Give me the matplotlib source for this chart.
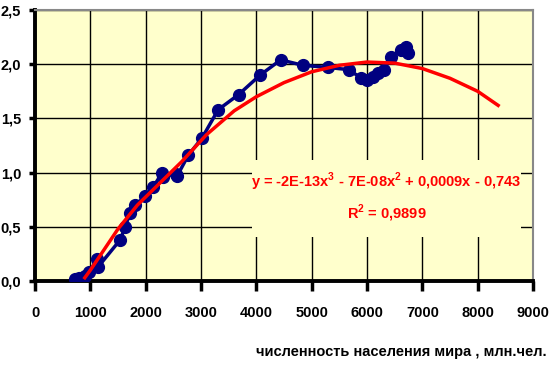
import matplotlib.pyplot as plt
from matplotlib.patches import Rectangle
from matplotlib.ticker import MultipleLocator, FuncFormatter

# численность населения (млн) и значение показателя
pop = [720, 760, 800, 850, 900, 980, 1120, 1140, 1540, 1630, 1720, 1810,
       1990, 2140, 2300, 2320, 2540, 2570, 2770, 3020, 3310, 3680, 4070,
       4440, 4840, 5290, 5670, 5900, 6000, 6100, 6200, 6300, 6430, 6610,
       6700, 6740]
val = [0.02, 0.01, 0.03, 0.02, 0.05, 0.08, 0.20, 0.13, 0.38, 0.50, 0.63,
       0.70, 0.78, 0.87, 1.00, 0.96, 0.99, 0.97, 1.16, 1.32, 1.58, 1.72,
       1.90, 2.04, 1.99, 1.97, 1.95, 1.87, 1.85, 1.88, 1.92, 1.95, 2.07,
       2.13, 2.16, 2.10]

# линия тренда
trend_x = [900, 1000, 1250, 1500, 1850, 2250, 2650, 3100, 3600, 4000, 4500,
           5000, 5500, 6000, 6500, 7000, 7500, 8000, 8370]
trend_y = [0.03, 0.10, 0.29, 0.48, 0.70, 0.90, 1.10, 1.35, 1.57, 1.70, 1.83,
           1.93, 1.99, 2.02, 2.01, 1.96, 1.87, 1.75, 1.62]

eq_text = 'y = -2E-13x$^3$ - 7E-08x$^2$ + 0,0009x - 0,743'
r2_text = 'R$^2$ = 0,9899'
xlabel = 'численность населения мира , млн.чел.'

plt.rcParams['font.family'] = ['Liberation Sans', 'DejaVu Sans']
plt.rcParams['mathtext.fontset'] = 'custom'
plt.rcParams['mathtext.rm'] = 'Liberation Sans:bold'

bg = '#FFFFCC'
fig = plt.figure(figsize=(5.55, 3.68), dpi=100)
ax = fig.add_axes([35 / 555, 1 - 281 / 368, 498 / 555, 271 / 368])
ax.set_facecolor(bg)

ax.plot(pop, val, color='#000080', lw=2.5, marker='o', ms=8.5, zorder=3)
ax.plot(trend_x, trend_y, color='#FF0000', lw=2.5, zorder=4)

ax.set_xlim(0, 9000)
ax.set_ylim(0, 2.5)
ax.xaxis.set_major_locator(MultipleLocator(1000))
ax.yaxis.set_major_locator(MultipleLocator(0.5))
ax.yaxis.set_major_formatter(FuncFormatter(lambda v, p: ('%.1f' % v).replace('.', ',')))
ax.grid(True, color='black', lw=1.0, zorder=1)
ax.set_axisbelow(True)

for s in ['left', 'bottom']:
    ax.spines[s].set_linewidth(2.8)
    ax.spines[s].set_color('black')
for s in ['top', 'right']:
    ax.spines[s].set_linewidth(1.5)
    ax.spines[s].set_color('#888888')

ax.tick_params(axis='x', direction='out', length=7, width=2.5, pad=11,
               labelsize=10.5)
ax.tick_params(axis='y', direction='out', length=4, width=2.5, pad=6,
               labelsize=10.5)
for lab in ax.get_xticklabels() + ax.get_yticklabels():
    lab.set_fontweight('bold')

# фон подписи уравнения закрывает сетку
ax.add_patch(Rectangle((3930, 0.406), 4850, 0.71, facecolor=bg,
                       edgecolor='none', zorder=2))
ax.text(6350, 0.775, eq_text + '\n' + r2_text, color='#FF0000', fontsize=10.5,
        fontweight='bold', ha='center', va='center', linespacing=1.6,
        zorder=5)

fig.text(547 / 555, 1 - 352 / 368, xlabel, ha='right', va='center',
         fontsize=10.5, fontweight='bold')

fig.savefig('out.png', dpi=100)
